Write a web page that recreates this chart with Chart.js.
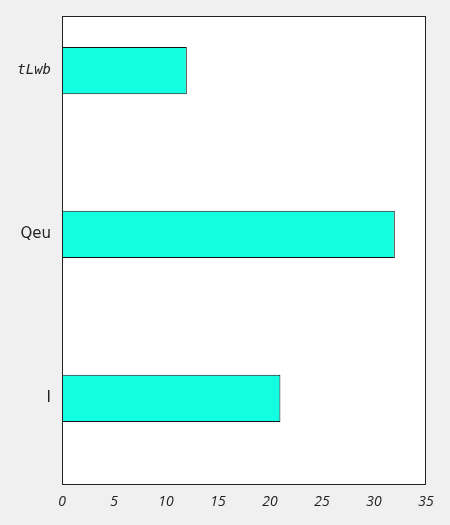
<!DOCTYPE html>
<html>
<head>
<meta charset="utf-8">
<script src="https://cdn.jsdelivr.net/npm/chart.js@4/dist/chart.umd.min.js"></script>
<style>
  html, body { margin: 0; padding: 0; background: #f0f0f0; }
  #wrap { width: 450px; height: 525px; }
</style>
</head>
<body>
<div id="wrap"><canvas id="c" width="450" height="525"></canvas></div>
<script>
const categories = ['tLwb', 'Qeu', 'I'];
const values = [12, 32, 21];
const xTicks = [0, 5, 10, 15, 20, 25, 30, 35];

const points = categories.map((c, i) => ({ x: values[i], y: i }));

const frame = {
  id: 'frame',
  beforeDraw(chart) {
    const { ctx, chartArea: a } = chart;
    ctx.save();
    ctx.fillStyle = '#ffffff';
    ctx.fillRect(a.left, a.top, a.right - a.left, a.bottom - a.top);
    ctx.restore();
  },
  afterDraw(chart) {
    const { ctx, chartArea: a } = chart;
    ctx.save();
    ctx.strokeStyle = '#222222';
    ctx.lineWidth = 1;
    ctx.strokeRect(Math.round(a.left) + 0.5, Math.round(a.top) + 0.5,
      Math.round(a.right - a.left) - 1, Math.round(a.bottom - a.top) - 1);
    ctx.restore();
  }
};

new Chart(document.getElementById('c'), {
  type: 'bar',
  data: {
    datasets: [{
      data: points,
      backgroundColor: '#12ffe1',
      borderColor: '#111111',
      borderWidth: 1,
      categoryPercentage: 1,
      barPercentage: 0.288
    }]
  },
  options: {
    indexAxis: 'y',
    responsive: false,
    animation: false,
    layout: { padding: { left: 0, top: 16, right: 24, bottom: 0 } },
    plugins: { legend: { display: false }, tooltip: { enabled: false } },
    scales: {
      x: {
        type: 'linear',
        min: 0,
        max: 35,
        offset: false,
        afterBuildTicks(scale) { scale.ticks = xTicks.map(v => ({ value: v })); },
        afterFit(scale) { scale.height = 40; scale.paddingLeft = 0; scale.paddingRight = 0; },
        grid: { display: false, drawTicks: false },
        border: { display: false },
        ticks: {
          padding: 9,
          color: '#222222',
          font: { family: 'Open Sans', size: 14, style: 'italic' }
        }
      },
      y: {
        type: 'linear',
        reverse: true,
        offset: false,
        min: -0.333,
        max: 2.529,
        afterBuildTicks(scale) { scale.ticks = categories.map((c, i) => ({ value: i })); },
        afterFit(scale) { scale.width = 62; scale.paddingTop = 0; scale.paddingBottom = 0; },
        grid: { display: false, drawTicks: false },
        border: { display: false },
        ticks: {
          padding: 11,
          color: '#222222',
          callback: (v) => categories[v],
          font: (ctx) => (ctx.tick && ctx.tick.value === 0)
            ? { family: 'DejaVu Sans Mono', size: 14, style: 'italic' }
            : { family: 'DejaVu Sans', size: 15 }
        }
      }
    }
  },
  plugins: [frame]
});
</script>
</body>
</html>
